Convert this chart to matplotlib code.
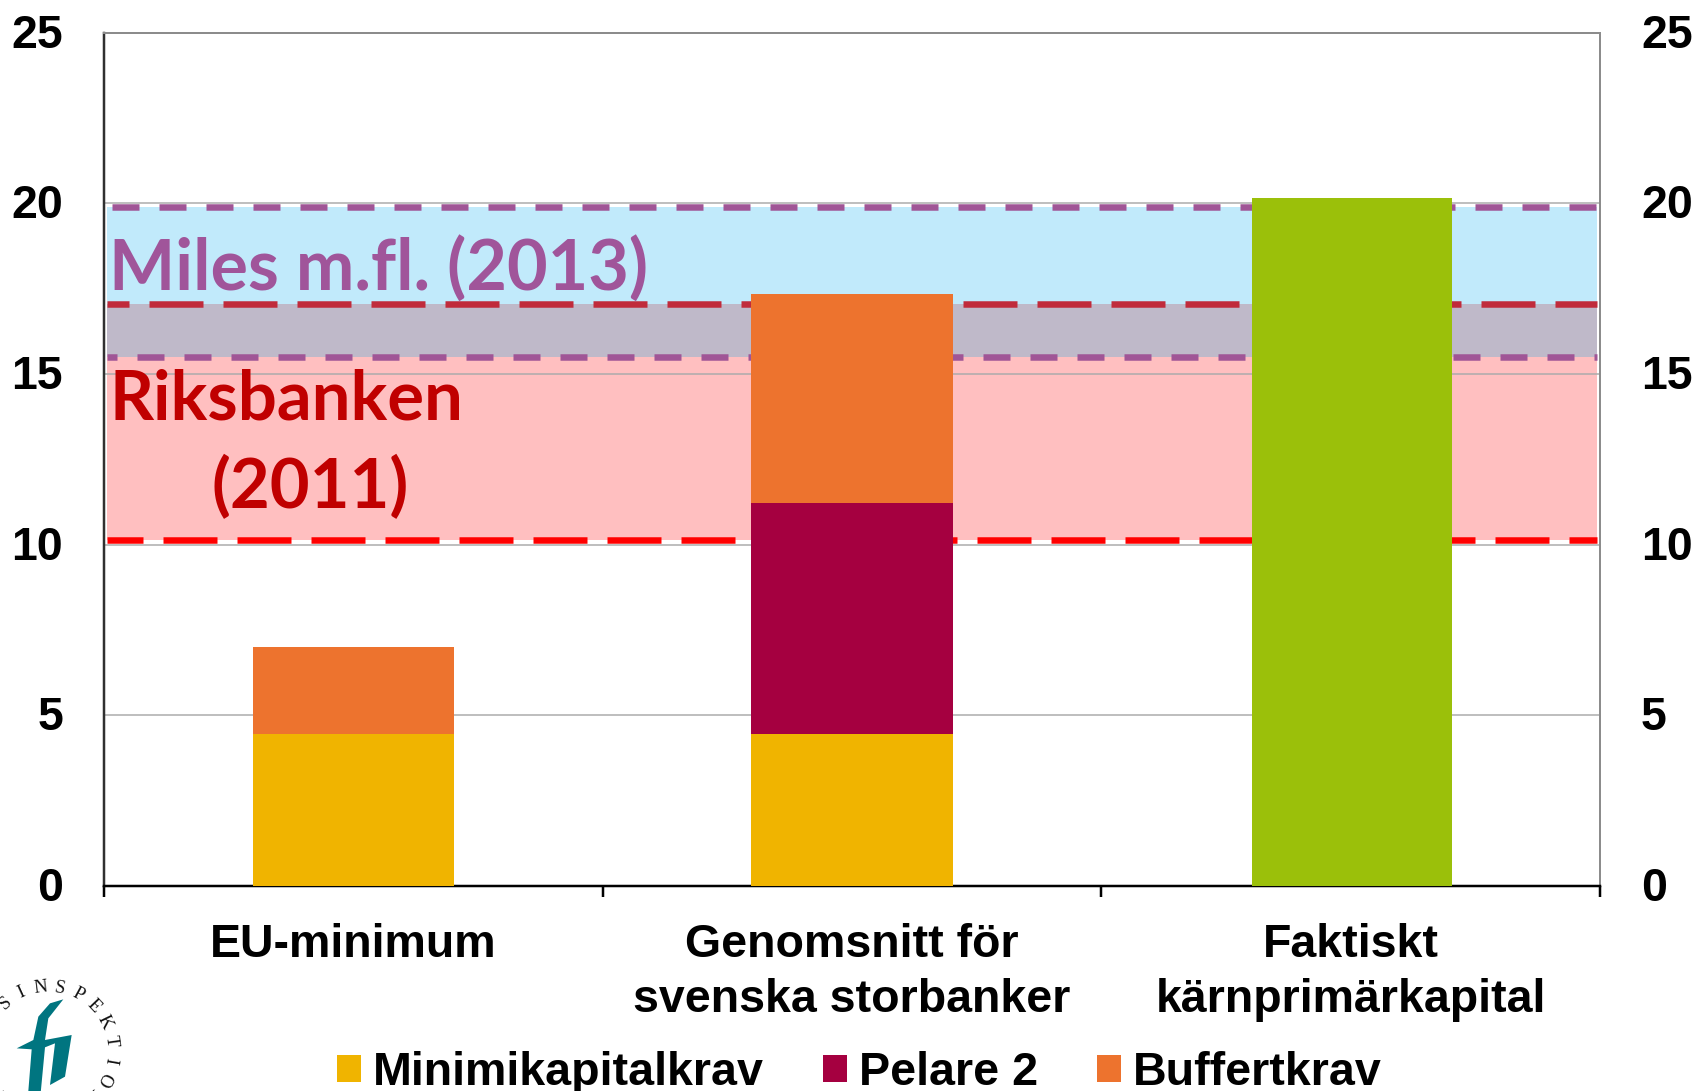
import numpy as np
import matplotlib
matplotlib.use("Agg")
import matplotlib.pyplot as plt
from matplotlib.patches import Polygon
from matplotlib.transforms import ScaledTranslation

W, H = 1696, 1091
plt.rcParams['lines.scale_dashes'] = False
plt.rcParams['font.family'] = ['Liberation Sans', 'DejaVu Sans']

categories = ["EU-minimum", "Genomsnitt för\nsvenska storbanker", "Faktiskt\nkärnprimärkapital"]
minimikapital = [4.45, 4.45, 0]
pelare2 = [0, 6.77, 0]
buffert = [2.56, 6.13, 0]
faktiskt = [0, 0, 20.15]
yticks = [0, 5, 10, 15, 20, 25]
riksbanken_band = (10.13, 17.05)
miles_band = (15.5, 19.9)

px = 72 / 100
fig = plt.figure(figsize=(W / 100, H / 100), dpi=100, facecolor='white')
ax = fig.add_axes([104 / W, 1 - 886 / H, 1496 / W, 853.5 / H])
ax.set_xlim(0, 3)
ax.set_ylim(0, 25)
x = np.arange(3) + 0.5

fx0, fx1 = 3 / 1496, 1 - 3 / 1496
ax.grid(False)
for yv in yticks[1:5]:
    ax.axhline(yv, color='#ABABAB', lw=1.5 * px, zorder=1.5)
ax.axhspan(riksbanken_band[0], miles_band[0], fx0, fx1, color='#FFBFC0', lw=0, zorder=1)
ax.axhspan(miles_band[0], riksbanken_band[1], fx0, fx1, color='#BFB9C9', lw=0, zorder=1)
ax.axhspan(riksbanken_band[1], miles_band[1], fx0, fx1, color='#C1EAFB', lw=0, zorder=1)

lines = [
    (miles_band[1], '#A05596', 27, 20, 42),
    (riksbanken_band[1], '#C02B3B', 54, 20, 32),
    (miles_band[0], '#A05596', 27, 20, 17),
    (riksbanken_band[0], '#FF0000', 54, 20, 18),
]
for yv, c, on, off, ofs in lines:
    ax.plot([fx0, fx1], [yv, yv], transform=ax.get_yaxis_transform(), color=c, lw=6.5 * px,
            linestyle=(ofs * px, (on * px, off * px)),
            dash_capstyle='butt', zorder=2)

w = 0.404
b1 = ax.bar(x, minimikapital, w, color='#F0B400', zorder=3, label='Minimikapitalkrav')
b2 = ax.bar(x, pelare2, w, bottom=minimikapital, color='#A50040', zorder=3, label='Pelare 2')
bot = np.array(minimikapital) + np.array(pelare2)
b3 = ax.bar(x, buffert, w, bottom=bot, color='#ED732E', zorder=3, label='Buffertkrav')
ax.bar(x + 0.003, faktiskt, 0.4, color='#9BC00A', zorder=3)

for s in ('top', 'right'):
    ax.spines[s].set_color('#8C8C8C')
    ax.spines[s].set_linewidth(2 * px)
ax.spines['left'].set_color('#303030')
ax.spines['left'].set_linewidth(2.5 * px)
ax.spines['bottom'].set_color('black')
ax.spines['bottom'].set_linewidth(2.5 * px)

ax.set_xticks([0, 1, 2, 3])
ax.set_xticklabels([])
ax.tick_params(axis='x', which='major', length=11 * px, width=2.5 * px, color='black')
ax.set_xticks(x, minor=True)
ax.set_xticklabels(categories, minor=True, fontsize=33.5, fontweight='bold', linespacing=1.32)
ax.tick_params(axis='x', which='minor', length=0, pad=26.5)

up = ScaledTranslation(0, 2 / 100, fig.dpi_scale_trans)
ax.set_yticks(yticks)
ax.tick_params(axis='y', length=0, pad=41 * px, labelsize=33.5)
for t in ax.get_yticklabels():
    t.set_fontweight('bold')
    t.set_transform(t.get_transform() + up)
ax2 = ax.twinx()
ax2.set_ylim(0, 25)
ax2.set_yticks(yticks)
ax2.tick_params(axis='y', length=0, pad=41 * px, labelsize=33.5)
for t in ax2.get_yticklabels():
    t.set_fontweight('bold')
    t.set_transform(t.get_transform() + up)
for s in ax2.spines.values():
    s.set_visible(False)


def P(xp, yp):
    return xp / W, 1 - yp / H


fig.text(*P(109, 290), "Miles m.fl. (2013)", family='Lato', fontweight='bold', fontsize=50.5, color='#A0559A', va='baseline')
fig.text(*P(109, 420), "Riksbanken", family='Lato', fontweight='bold', fontsize=49.5, color='#C00000', va='baseline')
fig.text(*P(212, 508), "(2011)", family='Lato', fontweight='bold', fontsize=49.5, color='#C00000', va='baseline')

fig.legend(handles=[b1, b2, b3], loc='lower left', bbox_to_anchor=P(295, 1137), ncols=3, frameon=False,
           handlelength=0.51, handleheight=0.51, handletextpad=0.255, columnspacing=1.27,
           prop={'family': 'Liberation Sans', 'weight': 'bold', 'size': 33.6})

# logo
zoom_pts = [(190, 118), (150, 130), (115, 170), (100, 240), (50, 265), (95, 268), (85, 393), (83, 420), (120, 420),
            (135, 262), (165, 250), (150, 375), (195, 350), (215, 225), (135, 240), (145, 175)]
fig.add_artist(Polygon([P(a / 3, 960 + b / 3) for a, b in zoom_pts], closed=True, transform=fig.transFigure,
                       facecolor='#007580', edgecolor='none'))
letters = "FINANSINSPEKTIONEN"
cx, cy, r = 48, 1050, 63
for i, ch in enumerate(letters):
    ang = (i - 7) * 17.8 - 7
    a = np.deg2rad(ang)
    fig.text(*P(cx + r * np.sin(a), cy - r * np.cos(a)), ch, family='Liberation Serif', fontsize=13.5,
             rotation=-ang, rotation_mode='anchor', ha='center', va='center', color='#111111')

fig.savefig('out.png', dpi=100)
